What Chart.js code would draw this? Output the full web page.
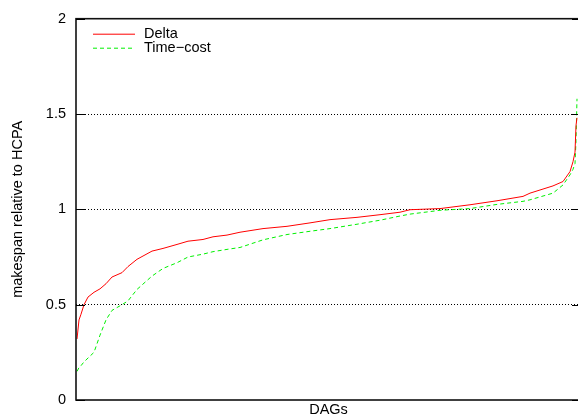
<!DOCTYPE html>
<html>
<head>
<meta charset="utf-8">
<script src="https://cdn.jsdelivr.net/npm/chart.js@4/dist/chart.umd.min.js"></script>
<style>
html,body{margin:0;padding:0;overflow:hidden;background:#fff;}
#wrap{position:relative;width:584px;height:419px;}
</style>
</head>
<body>
<div id="wrap"><canvas id="c" width="584" height="419"></canvas></div>
<script>
// DAG ranks (sorted by relative makespan)
const ranks = [1,3,5,8,12,18,24,30,36,46,52,61,76,87,101,112,127,137,151,164,187,211,234,254,281,304,324,334,364,394,421,447,454,477,487,494,497,499,500,501];
const deltaValues = [0.32,0.42,0.45,0.50,0.54,0.565,0.583,0.61,0.645,0.668,0.70,0.738,0.781,0.795,0.816,0.833,0.842,0.856,0.865,0.88,0.899,0.911,0.929,0.946,0.958,0.972,0.985,0.998,1.004,1.024,1.045,1.068,1.085,1.123,1.146,1.198,1.25,1.30,1.44,1.48];
const timeCostValues = [0.15,0.17,0.18,0.20,0.22,0.25,0.34,0.42,0.47,0.50,0.52,0.58,0.65,0.69,0.72,0.75,0.765,0.778,0.79,0.80,0.84,0.868,0.885,0.899,0.922,0.943,0.965,0.975,0.995,1.004,1.026,1.042,1.05,1.085,1.128,1.181,1.21,1.24,1.36,1.58];
const yTicks = [0,0.5,1,1.5,2];
const seriesNames = ['Delta','Time\u2212cost'];
const xMax = 505;

const FONT = 'Liberation Sans, Arial, Helvetica, sans-serif';
const FS = 14.5;

const framePlugin = {
  id:'frame',
  afterDraw(chart){
    const {ctx, chartArea:a, scales:{y}} = chart;
    ctx.save();
    ctx.strokeStyle = '#111';
    ctx.lineWidth = 1.6;
    ctx.strokeRect(a.left, a.top, a.right - a.left, a.bottom - a.top);
    ctx.lineWidth = 1.2;
    ctx.strokeStyle = '#000';
    yTicks.forEach(v=>{
      const py = Math.round(y.getPixelForValue(v)) + 0.5;
      ctx.beginPath();
      ctx.moveTo(a.left, py); ctx.lineTo(a.left + 9, py);
      ctx.moveTo(a.right, py); ctx.lineTo(a.right - 9, py);
      ctx.stroke();
    });
    // legend inside the plot
    const ds = chart.data.datasets;
    ctx.font = FS + 'px ' + FONT;
    ctx.textBaseline = 'middle';
    ctx.fillStyle = '#000';
    ds.forEach((d,i)=>{
      const ly = a.top + 15 + i*14;
      ctx.beginPath();
      ctx.strokeStyle = d.borderColor;
      ctx.lineWidth = 1;
      ctx.setLineDash(d.borderDash || []);
      ctx.moveTo(a.left + 17, ly + 0.5);
      ctx.lineTo(a.left + 59, ly + 0.5);
      ctx.stroke();
      ctx.setLineDash([]);
      ctx.fillText(d.label, a.left + 68, ly);
    });
    ctx.restore();
  }
};

new Chart(document.getElementById('c'), {
  type:'line',
  data:{
    datasets:[
      {label:seriesNames[0], data:ranks.map((r,i)=>({x:r,y:deltaValues[i]})), borderColor:'#ff0000', borderWidth:1, pointRadius:0, tension:0, fill:false},
      {label:seriesNames[1], data:ranks.map((r,i)=>({x:r,y:timeCostValues[i]})), borderColor:'#00f000', borderWidth:1, borderDash:[4,3], pointRadius:0, tension:0, fill:false}
    ]
  },
  options:{
    responsive:false,
    animation:false,
    devicePixelRatio:1,
    layout:{padding:{left:9,right:3,top:16,bottom:0}},
    plugins:{legend:{display:false},tooltip:{enabled:false}},
    scales:{
      x:{
        type:'linear', min:0, max:xMax,
        grid:{display:false, drawTicks:false},
        border:{display:false},
        ticks:{display:false},
        title:{display:true, text:'DAGs', color:'#000', font:{family:FONT,size:FS}, padding:{top:4,bottom:0}},
        afterFit(s){ s.height = 19; }
      },
      y:{
        min:0, max:2,
        afterBuildTicks(s){ s.ticks = yTicks.map(v=>({value:v})); },
        grid:{
          drawTicks:false,
          color:(c)=> (c.tick && (c.tick.value===0 || c.tick.value===2)) ? 'rgba(0,0,0,0)' : '#000',
          lineWidth:1
        },
        border:{display:false, dash:[1,2]},
        ticks:{color:'#000', font:{family:FONT,size:FS}, padding:10, callback:(v)=>String(v)},
        title:{display:true, text:'makespan relative to HCPA', color:'#000', font:{family:FONT,size:FS}, padding:{top:0,bottom:0}},
        afterFit(s){ s.width = 67; }
      }
    }
  },
  plugins:[framePlugin]
});
</script>
</body>
</html>
